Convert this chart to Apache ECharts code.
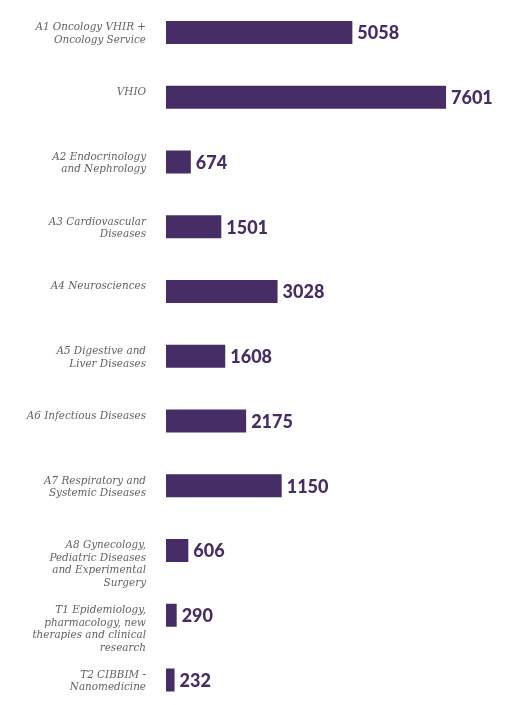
<!DOCTYPE html>
<html>
<head>
<meta charset="utf-8">
<style>
html,body{margin:0;padding:0;background:#fff;}
#chart{width:523px;height:705px;}
</style>
<script src="https://cdn.jsdelivr.net/npm/echarts@6/dist/echarts.min.js"></script>
</head>
<body>
<div id="chart"></div>
<script>
var categories = [
  "A1 Oncology VHIR +\nOncology Service",
  "VHIO",
  "A2 Endocrinology\nand Nephrology",
  "A3 Cardiovascular\nDiseases",
  "A4 Neurosciences",
  "A5 Digestive and\nLiver Diseases",
  "A6 Infectious Diseases",
  "A7 Respiratory and\nSystemic Diseases",
  "A8 Gynecology,\nPediatric Diseases\nand Experimental\nSurgery",
  "T1 Epidemiology,\npharmacology, new\ntherapies and clinical\nresearch",
  "T2 CIBBIM -\nNanomedicine"
];
// bar lengths as drawn in the reference
var barValues = [5058, 7601, 674, 1501, 3028, 1608, 2175, 3140, 606, 290, 232];
// value labels as printed in the reference
var valueLabels = ["5058", "7601", "674", "1501", "3028", "1608", "2175", "1150", "606", "290", "232"];

var chart = echarts.init(document.getElementById('chart'));
chart.setOption({
  animation: false,
  backgroundColor: '#ffffff',
  grid: { left: 166, top: 32.5, height: 647.5, width: 331.6, containLabel: false },
  xAxis: {
    type: 'value', min: 0, max: 9000, show: false
  },
  yAxis: {
    type: 'category',
    data: categories,
    inverse: true,
    boundaryGap: false,
    axisLine: { show: false },
    axisTick: { show: false },
    splitLine: { show: false },
    axisLabel: {
      interval: 0,
      margin: 20,
      align: 'right',
      verticalAlign: 'top',
      padding: [-11, 0, 0, 0],
      fontFamily: 'DejaVu Serif',
      fontStyle: 'italic',
      fontSize: 10.4,
      lineHeight: 12.5,
      color: '#626262'
    }
  },
  series: [{
    type: 'bar',
    data: barValues,
    barWidth: 23,
    itemStyle: { color: '#472d65' },
    label: {
      show: true,
      position: 'right',
      distance: 5,
      offset: [0, 1],
      formatter: function (p) { return valueLabels[p.dataIndex]; },
      fontFamily: 'Lato',
      fontWeight: 900,
      fontSize: 18,
      color: '#472d65'
    }
  }]
});
</script>
</body>
</html>
